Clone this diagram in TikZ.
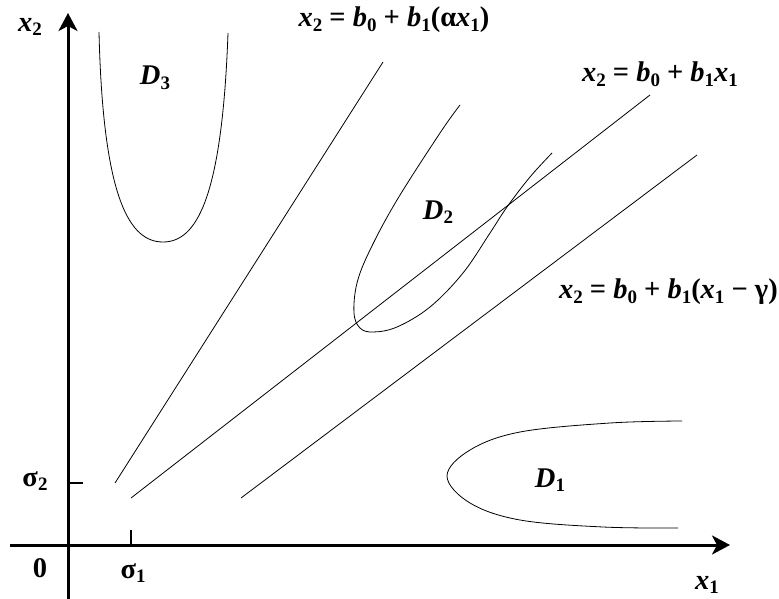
\documentclass[tikz,border=0pt]{standalone}
\usepackage{fontspec}
\setmainfont{Liberation Serif}
\usetikzlibrary{arrows.meta}
\newcommand\ssb[1]{\raisebox{-0.35ex}{\fontsize{19}{19}\selectfont\bfseries\upshape #1}}
\newcommand\vi[1]{{\itshape #1}}
\begin{document}
\begin{tikzpicture}[x=1pt,y=-1pt,
  lbl/.style={font=\fontsize{28.5}{30}\selectfont\bfseries, inner sep=0pt},
  axis/.style={line width=3pt,-{Stealth[length=18pt,width=19pt,inset=5pt]}},
  thin/.style={line width=0.8pt},
  tick/.style={line width=1.2pt}]
\path[use as bounding box] (0,0) rectangle (779,599);
% axes
\coordinate (xa0) at (10,545);
\coordinate (xa1) at (730,545);
\coordinate (ya0) at (68,599);
\coordinate (ya1) at (68,13);
\draw[axis] (xa0) -- (xa1);
\draw[axis] (ya0) -- (ya1);
% ticks
\coordinate (t1a) at (131,530); \coordinate (t1b) at (131,545);
\coordinate (t2a) at (68,483); \coordinate (t2b) at (83,483);
\draw[tick] (t1a) -- (t1b);
\draw[tick] (t2a) -- (t2b);
% axis labels
\node[lbl] (lx2) at (30,27) {\vi{x}\ssb{2}};
\node[lbl] (lx1) at (707,585) {\vi{x}\ssb{1}};
\node[lbl] (l0) at (40,568) {0};
\node[lbl] (ls1) at (133,573) {σ\ssb{1}};
\node[lbl] (ls2) at (35,481) {σ\ssb{2}};
% lines
\coordinate (a0) at (115,483); \coordinate (a1) at (383,62);
\coordinate (b0) at (131,498); \coordinate (b1) at (650,95);
\coordinate (c0) at (241,498); \coordinate (c1) at (697,155);
\draw[thin] (a0) -- (a1);
\draw[thin] (b0) -- (b1);
\draw[thin] (c0) -- (c1);
\node[lbl] (la) at (394,20) {\vi{x}\ssb{2} = \vi{b}\ssb{0} + \vi{b}\ssb{1}(α\vi{x}\ssb{1})};
\node[lbl] (lb) at (660,74) {\vi{x}\ssb{2} = \vi{b}\ssb{0} + \vi{b}\ssb{1}\vi{x}\ssb{1}};
\node[lbl,anchor=east] (lc) at (778,292) {\vi{x}\ssb{2} = \vi{b}\ssb{0} + \vi{b}\ssb{1}(\vi{x}\ssb{1} − γ)};
% D3
\draw[thin] (99,32) .. controls (103,200) and (130,242) .. (163,242)
  .. controls (196,242) and (222,200) .. (228,33);
\node[lbl] (d3) at (155,78) {\vi{D}\ssb{3}};
% D2
\draw[thin] plot[smooth,tension=0.6] coordinates {(460,105) (440,133) (397,200) (370,250) (357,283) (354,313) (360,328) (373,332) (397,327) (430,307) (463,273) (490,233) (507,207) (530,177) (552,153)};
\node[lbl] (d2) at (438,212) {\vi{D}\ssb{2}};
% D1
\draw[thin] plot[smooth,tension=0.6] coordinates {(682,421) (610,423) (520,432) (470,450) (447,476) (470,503) (520,520) (603,527) (678,528)};
\node[lbl] (d1) at (550,480) {\vi{D}\ssb{1}};
\end{tikzpicture}
\end{document}
